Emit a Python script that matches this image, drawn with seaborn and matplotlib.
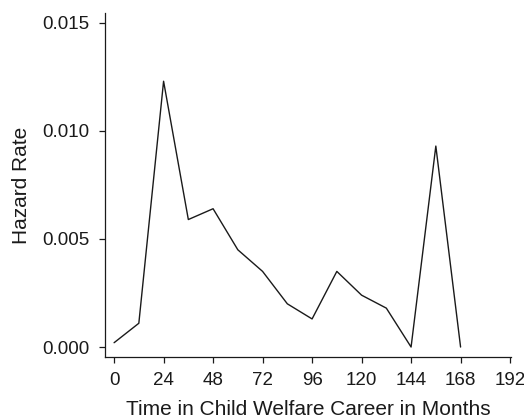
import matplotlib
matplotlib.use("Agg")
import matplotlib.pyplot as plt
import seaborn as sns
import pandas as pd

months = [0, 12, 24, 36, 48, 60, 72, 84, 96, 108, 120, 132, 144, 156, 168]
hazard = [0.0002, 0.0011, 0.0123, 0.0059, 0.0064, 0.0045, 0.0035, 0.0020,
          0.0013, 0.0035, 0.0024, 0.0018, 0.0000, 0.0093, 0.0000]
x_ticks = [0, 24, 48, 72, 96, 120, 144, 168, 192]
y_ticks = [0.000, 0.005, 0.010, 0.015]

df = pd.DataFrame({"month": months, "hazard": hazard})

sns.set_style("ticks")
plt.rcParams["font.family"] = ["Liberation Sans", "DejaVu Sans"]

fig = plt.figure(figsize=(5.24, 4.18), dpi=100)
ax = fig.add_axes([0.2004, 0.146, 0.775, 0.823])
sns.lineplot(data=df, x="month", y="hazard", color="#1a1a1a", linewidth=1.0, ax=ax)

ax.set_xlim(-4.4, 192.5)
ax.set_ylim(-0.00046, 0.01546)
ax.set_xticks(x_ticks)
ax.set_yticks(y_ticks)
ax.set_yticklabels([f"{v:.3f}" for v in y_ticks])
ax.tick_params(labelsize=13.5, length=4.5, width=0.9, colors="#1a1a1a", pad=6.5)
ax.set_xlabel("Time in Child Welfare Career in Months", fontsize=15,
              color="#1a1a1a", labelpad=8)
ax.set_ylabel("Hazard Rate", fontsize=15, color="#1a1a1a", labelpad=8)
for s in ["left", "bottom"]:
    ax.spines[s].set_linewidth(0.9)
    ax.spines[s].set_color("#1a1a1a")
sns.despine(ax=ax)

fig.savefig("out.png", dpi=100)
